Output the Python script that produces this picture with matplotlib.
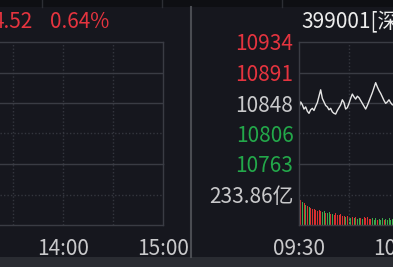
import matplotlib
matplotlib.use("Agg")
import matplotlib.pyplot as plt
from matplotlib.patches import Rectangle
from matplotlib.lines import Line2D

plt.rcParams["font.family"] = ["Noto Sans CJK SC", "DejaVu Sans"]

W, H = 393, 267

# ---- data ----
price_ticks = [10934, 10891, 10848, 10806, 10763]
price_tick_colors = ["red", "red", "grey", "green", "green"]
vol_tick = 233.86
vol_tick_label = "233.86亿"
time_ticks = [0, 60, 120, 180, 240]
time_labels = ["09:30", "10:30", "11:30", "14:00", "15:00"]

# minute-by-minute index (399001), first part of the session
price = [10842, 10850, 10846, 10840, 10843, 10837, 10834, 10839, 10841, 10838,
         10844, 10849, 10858, 10867, 10855, 10850, 10845, 10843, 10839, 10841,
         10836, 10834, 10833, 10838, 10842, 10846, 10853, 10849, 10840, 10842,
         10848, 10855, 10861, 10857, 10854, 10858, 10856, 10852, 10848, 10844,
         10840, 10845, 10851, 10857, 10863, 10870, 10877, 10871, 10866, 10862,
         10857, 10852, 10848, 10850, 10853, 10849, 10846]

# volume in 亿
volume = [460, 190, 175, 165, 150, 145, 140, 130, 120, 125,
          115, 110, 118, 105, 100, 108, 95, 90, 98, 85,
          88, 80, 92, 78, 75, 82, 70, 68, 60, 72,
          58, 55, 65, 52, 60, 48, 55, 50, 45, 58,
          52, 62, 48, 45, 50, 42, 55, 40, 48, 38,
          52, 42, 45, 38, 50, 40, 44]
vol_dir = ["g", "r", "g", "r", "g", "r", "g", "r", "r", "r",
           "r", "r", "r", "r", "g", "g", "r", "g", "g", "r",
           "g", "r", "r", "r", "r", "r", "r", "r", "g", "r",
           "g", "g", "r", "g", "r", "g", "g", "r", "g", "r",
           "r", "r", "r", "r", "g", "g", "g", "r", "g", "g",
           "g", "r", "g", "g", "g", "g", "g"]

header_left = ["4.52", "0.64%"]
header_right = "399001[深证成指]"

# ---- colours ----
BG = "#16171e"
GRID = "#3a3c44"
DOT = "#34363e"
RED = "#e5343f"
GREEN = "#23a84a"
LABEL = "#c9c9cb"
cmap = {"red": RED, "green": GREEN, "grey": LABEL}
barc = {"r": "#d9302f", "g": "#3aa84a"}


def px(x0, y0, x1, y1):
    return [x0 / W, 1 - y1 / H, (x1 - x0) / W, (y1 - y0) / H]


fig = plt.figure(figsize=(W / 100, H / 100), dpi=100, facecolor=BG)

# top strip and bottom strip
fig.add_artist(Rectangle((0, 1 - 7 / H), 1, 7 / H, transform=fig.transFigure,
                         facecolor="#0e0f13", edgecolor="none", zorder=-1))
for xd in [42, 162, 282]:
    fig.add_artist(Line2D([xd / W, xd / W], [1 - 7 / H, 1], transform=fig.transFigure,
                          color="#2c2e34", lw=1))
fig.add_artist(Rectangle((0, 0), 1, 10 / H, transform=fig.transFigure,
                         facecolor="#2a2c32", edgecolor="none", zorder=-1))


def style(ax):
    ax.set_facecolor("none")
    for s in ax.spines.values():
        s.set_color(GRID)
        s.set_linewidth(1)
    ax.tick_params(length=0, colors=LABEL, labelsize=15)


def make_panel(x0, x1, xmin, with_y):
    # 50 px per half hour -> 0.6 minute per pixel
    axp = fig.add_axes(px(x0, 42, x1, 164))
    axv = fig.add_axes(px(x0, 164, x1, 225))
    for ax in (axp, axv):
        style(ax)
        ax.set_xlim(xmin, 240)
        for t in [30, 90, 150, 180, 210]:
            ax.axvline(t, color=DOT, lw=1, ls=(0, (1, 1.5)))
        ax.axvline(120, color=GRID, lw=1)
    axp.set_ylim(price_ticks[-1], price_ticks[0])
    axp.axhline(price_ticks[1], color=GRID, lw=1)
    axp.axhline(price_ticks[2], color=GRID, lw=1)
    axp.axhline(price_ticks[3], color=DOT, lw=1, ls=(0, (1, 1.5)))
    axp.set_xticks([])
    axv.set_ylim(0, vol_tick * 2)
    axv.axhline(vol_tick, color=DOT, lw=1, ls=(0, (1, 1.5)))
    axv.spines["top"].set_visible(False)
    ticks = [(t, l) for t, l in zip(time_ticks, time_labels) if t >= xmin]
    axv.set_xticks([t for t, _ in ticks])
    axv.set_xticklabels([l for _, l in ticks])
    axv.tick_params(axis="x", pad=9.5)
    if with_y:
        axp.set_yticks(price_ticks)
        axp.set_yticklabels([str(v) for v in price_ticks])
        for lab, c in zip(axp.get_yticklabels(), price_tick_colors):
            lab.set_color(cmap[c])
        axp.tick_params(axis="y", pad=4)
        axv.set_yticks([vol_tick])
        axv.set_yticklabels([vol_tick_label])
        axv.tick_params(axis="y", pad=4)
    else:
        axp.set_yticks([])
        axv.set_yticks([])
        axp.spines["left"].set_visible(False)
        axv.spines["left"].set_visible(False)
    return axp, axv


# left panel (previous chart, only its right end is visible)
make_panel(0, 163, 240 - 163 * 0.6, False)

# right panel
axp, axv = make_panel(299, 699, 0, True)
minutes = list(range(len(price)))
axp.plot(minutes, price, color="#e6e6e6", lw=1)
axv.bar(minutes, volume, width=0.6, color=[barc[d] for d in vol_dir])

# headers
fig.text(33 / W, 1 - 22 / H, header_left[0], color=RED, fontsize=15,
         ha="right", va="center")
fig.text(50 / W, 1 - 22 / H, header_left[1], color=RED, fontsize=15,
         ha="left", va="center")
fig.text(301 / W, 1 - 22 / H, header_right, color="#ececec", fontsize=15,
         ha="left", va="center")

# separator between the two panels
fig.add_artist(Line2D([190.5 / W, 190.5 / W], [10 / H, 1 - 7 / H], transform=fig.transFigure,
                      color="#4a4c52", lw=1.5, zorder=5))

fig.savefig("out.png", dpi=100, facecolor=BG)
